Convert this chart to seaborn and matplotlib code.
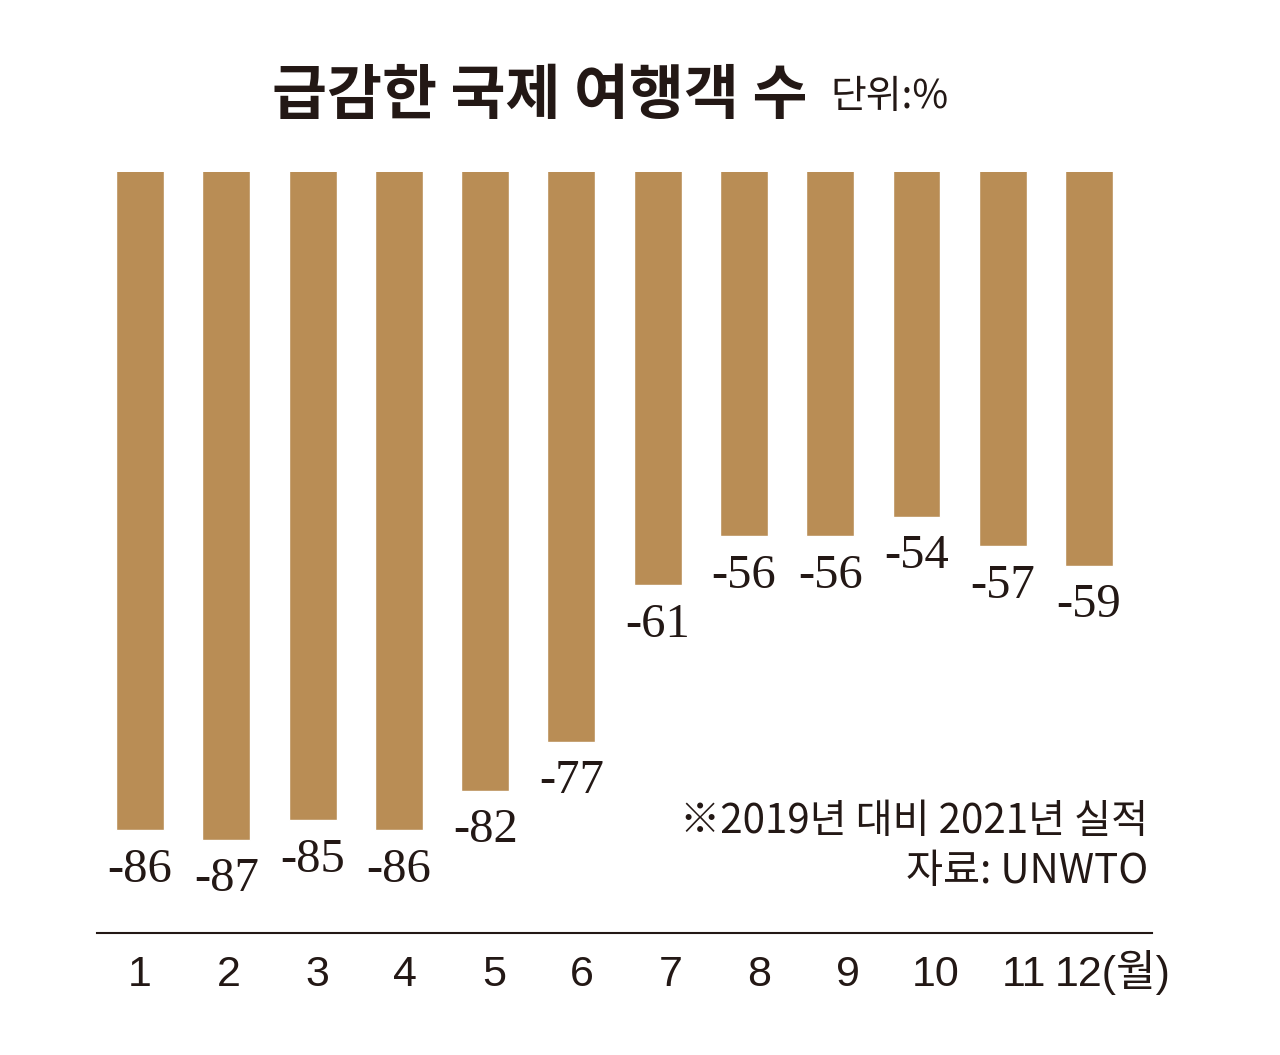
import numpy as np
import pandas as pd
import matplotlib
matplotlib.use("Agg")
import matplotlib.pyplot as plt
import seaborn as sns

# data (change vs 2019, %)
months = ['1', '2', '3', '4', '5', '6', '7', '8', '9', '10', '11', '12(월)']
change = [-86, -87, -85, -86, -82, -77, -61, -56, -56, -54, -57, -59]

title = '급감한 국제 여행객 수'
unit = '단위:%'
note = '※2019년 대비 2021년 실적'
source = '자료: UNWTO'

bar_color = '#B98D55'
ink = '#231815'

sns.set_theme(style='white')
plt.rcParams['font.family'] = ['Liberation Sans Narrow', 'Liberation Sans', 'Noto Sans CJK KR', 'DejaVu Sans']

df = pd.DataFrame({'month': months, 'change': change})

W, H = 1280, 1055
fig = plt.figure(figsize=(W / 100, H / 100), dpi=100)
ax = fig.add_axes([97 / W, 1 - 933 / H, (1152 - 97) / W, (933 - 172) / H])

sns.barplot(data=df, x='month', y='change', color=bar_color, saturation=1,
            width=0.556, ax=ax)

# bars hang from the top edge, axis is cut above zero
ax.set_ylim(-96.5, -18.8)
ax.set_xlim(-0.5, 11.73)

for i, v in enumerate(change):
    ax.annotate(f'{v}', xy=(i, v), xytext=(0, -37), textcoords='offset points',
                ha='center', va='baseline', fontsize=35, color=ink,
                family=['Liberation Serif', 'DejaVu Serif'])

# month labels drift slightly to the right in the original layout
pos = np.arange(len(months))
ax.set_xticks(pos * 1.025)
ax.set_xticklabels(months)

ax.set_xlabel('')
ax.set_ylabel('')
ax.set_yticks([])
ax.tick_params(axis='x', length=0, pad=38, labelsize=31, labelcolor=ink)
for lab in ax.get_xticklabels():
    lab.set_verticalalignment('baseline')
for s in ['top', 'left', 'right']:
    ax.spines[s].set_visible(False)
ax.spines['bottom'].set_color(ink)
ax.spines['bottom'].set_linewidth(1.5)

fig.text(272 / W, 1 - 97 / H, title, ha='left', va='center', fontsize=43,
         fontweight='bold', color=ink, family=['Noto Sans CJK KR', 'DejaVu Sans'])
fig.text(830 / W, 1 - 97 / H, unit, ha='left', va='center', fontsize=28,
         color=ink, family=['Noto Sans CJK KR', 'DejaVu Sans'])

fig.text(1148 / W, 1 - 822 / H, note, ha='right', va='center', fontsize=29,
         color=ink, family=['Noto Sans CJK KR', 'DejaVu Sans'])
fig.text(1148 / W, 1 - 872 / H, source, ha='right', va='center', fontsize=29,
         color=ink, family=['Noto Sans CJK KR', 'DejaVu Sans'])

fig.savefig('out.png', dpi=100, facecolor='white')
